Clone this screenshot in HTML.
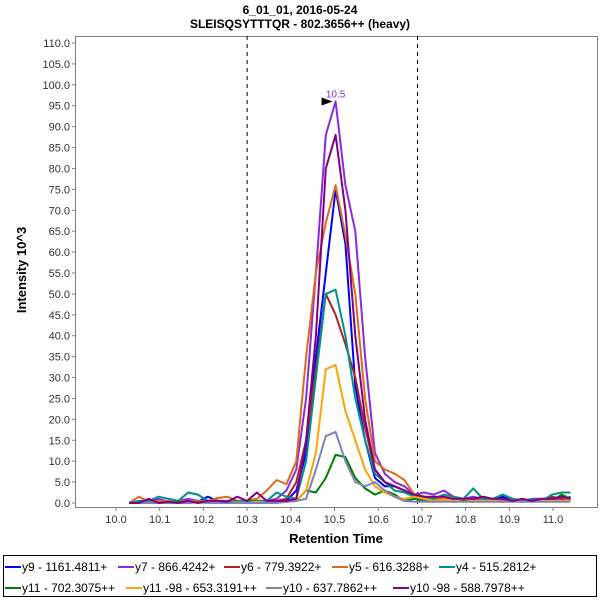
<!DOCTYPE html>
<html><head><meta charset="utf-8"><style>
body{margin:0;background:#fff;font-family:"Liberation Sans",sans-serif}
#wrap{position:relative;width:600px;height:600px}
</style></head><body>
<div id="wrap">
<svg id="svg" width="600" height="600" xmlns="http://www.w3.org/2000/svg" font-family="Liberation Sans, sans-serif">
<text x="300" y="14" text-anchor="middle" font-size="12" font-weight="bold">6_01_01, 2016-05-24</text>
<text x="300" y="28" text-anchor="middle" font-size="12" font-weight="bold">SLEISQSYTTTQR - 802.3656++ (heavy)</text>
<text x="26" y="270" text-anchor="middle" font-size="13" font-weight="bold" transform="rotate(-90 26 270)">Intensity 10^3</text>
<text x="336" y="543" text-anchor="middle" font-size="13" font-weight="bold">Retention Time</text>
<g id="plot"></g>
<rect x="3.5" y="555.5" width="593" height="41" fill="none" stroke="#000"/>
<g id="legend" font-size="12"></g>
</svg>
</div>
<script>
const times=[10.03,10.0525,10.075,10.0975,10.12,10.1425,10.165,10.1875,10.21,10.2325,10.255,10.2775,10.30,10.3225,10.345,10.3675,10.39,10.4125,10.435,10.4575,10.48,10.5025,10.525,10.5475,10.57,10.5925,10.615,10.6375,10.66,10.6825,10.705,10.7275,10.75,10.7725,10.795,10.8175,10.84,10.8625,10.885,10.9075,10.93,10.9525,10.975,10.9975,11.02,11.04];
const seriesNames=["y9 - 1161.4811+","y7 - 866.4242+","y6 - 779.3922+","y5 - 616.3288+","y4 - 515.2812+","y11 - 702.3075++","y11 -98 - 653.3191++","y10 - 637.7862++","y10 -98 - 588.7978++"];
const seriesColors=["#0000ff","#8a2be2","#b22222","#e06a1b","#009090","#008000","#ffa500","#8080c0","#800080"];
const y9=[0,0,0.5,0,0.3,0.5,0.2,0.3,1.5,0.5,0.5,0.3,0,0.2,0,0.3,0.5,3,12,35,55,75,62,28,15,6,4,4,3,1.5,1,0.5,0.5,1,1,0.8,1,0.5,1.5,0.5,1,0.3,1,0.5,0.5,1.5];
const y7=[0,0,0.5,1,0.3,0.5,1,0.5,0.3,0.5,0.3,0.5,0,0.5,0.5,1,3,8,25,55,88,96,76,65,35,12,7,5,4,2,2.5,2,3,1.5,1,1.5,1,1,0.5,1,0.5,1,1,0.5,1,1];
const y6=[0,0,0.3,0.5,0.2,0.5,0.3,0.5,0.2,0.5,0.3,0.5,0.3,0.5,0.5,0.5,1,5,15,32,50,45,38,30,18,8,5,4,3,2,1.5,1,1,0.8,1,1,0.5,1,0.5,1,0.5,0.5,0.8,1.5,1,1];
const y5=[0,1.5,0.3,0.5,0.5,0.3,0.5,0.5,0.5,1.2,1.5,0.5,0.5,1,3,5.5,4.5,10,35,55,67,76,64,50,25,10,8,7,5.5,2,1.5,1,1,0.5,1,0.5,0.8,1,0.5,0.8,0.5,0.5,0.8,1,1.5,0.5];
const y4=[0,0.5,0.5,1.5,1,0.5,2.5,2,0.5,0.5,0.5,0.5,0.5,0.5,0.5,2.5,1.5,1,10,30,50,51,40,25,15,7,5,3,2.5,1.5,1.5,1,2,1.5,1,3.5,1,1,2,1,0.5,1,0.5,2,2.5,2.5];
const y11=[0,0,0,0,0,0.3,0,0.3,0.2,0,0,0.3,0,0.3,0,0.3,0.3,0.5,3,2.5,6,11.5,11,6,3.5,2,3,2,0.5,1,0.5,0.3,0.5,0.3,0.5,0.3,0.5,0.5,0.3,0.5,0.3,0.5,0.5,0.5,2,1];
const y1198=[0,0,0,0,0.3,0,0.3,0,0.2,0.3,0,0.2,0,0.3,0,0.2,0.3,0.5,3,12,32,33,22,15,8,4,2.5,1.5,1,1.5,1,0.5,0.8,0.5,1,0.5,0.5,0.5,0.3,0.5,0.3,0.5,0.5,0.5,0.5,0.5];
const y10=[0,0,0,0,0,0,0,0.2,0,0,0,0,0,0,0,0,0.3,0.5,1,8,16,17,10,5,4,5,3,1.5,0.5,0.3,0.3,0.3,0.3,0.3,0.3,0.3,0.3,0.3,0.3,0.3,0.3,0.3,0.3,0.3,0.3,0.3];
const y1098=[0,0,1,0,0.3,0,0.5,0,0.5,0.5,0.3,1.5,0.5,2.5,0.5,0.5,0.5,1,15,40,80,88,70,40,20,8,5,4,3,2,1.5,1.5,1.5,1,1,1,1.5,1,1,0.5,1,0.5,1,1,1.5,1];
const seriesData=[y9,y7,y6,y5,y4,y11,y1198,y10,y1098];
const xTicks=[10.0,10.1,10.2,10.3,10.4,10.5,10.6,10.7,10.8,10.9,11.0];
const yTicks=[0,5,10,15,20,25,30,35,40,45,50,55,60,65,70,75,80,85,90,95,100,105,110];
const markers=[10.30,10.69];
const peakTime=10.5025, peakValue=96, peakLabel="10.5";

const NS="http://www.w3.org/2000/svg";
const L=75,R=597,T=36,B=507;
function xs(t){return 116+(t-10.0)*437;}
function ys(v){return 503-v*(460/110);}
function mk(tag,attrs,parent){const e=document.createElementNS(NS,tag);for(const k in attrs)e.setAttribute(k,attrs[k]);parent.appendChild(e);return e;}
const g=document.getElementById('plot');
const frame=mk('rect',{x:L+0.5,y:T+0.5,width:R-L,height:B-T,fill:'none',stroke:'#808080'},g);


yTicks.forEach(v=>{
  const y=ys(v);
  const tl=mk('line',{x1:L-3,x2:L,y1:y,y2:y,stroke:'#808080'},g);
  
  
  const tx=mk('text',{x:L-5,y:y+4,'text-anchor':'end','font-size':11,fill:'#333'},g);
  tx.textContent=v.toFixed(1);
  
  
});
mk('line',{x1:L,x2:R,y1:B+0.5,y2:B+0.5,stroke:'#808080'},g);
xTicks.forEach(t=>{
  const x=xs(t);
  const tl=mk('line',{x1:x,x2:x,y1:B,y2:B+4,stroke:'#808080'},g);
  
  
  const tx=mk('text',{x:x,y:B+16,'text-anchor':'middle','font-size':11,fill:'#333'},g);
  tx.textContent=t.toFixed(1);
  
  
});
markers.forEach(t=>{
  const ln=mk('line',{x1:xs(t),x2:xs(t),y1:T,y2:B,stroke:'#000','stroke-dasharray':'4,4'},g);
  
  
});
seriesData.forEach((d,i)=>{
  const pts=d.map((v,j)=>xs(times[j]).toFixed(1)+','+ys(v).toFixed(1)).join(' ');
  const pl=mk('polyline',{points:pts,fill:'none',stroke:seriesColors[i],'stroke-width':2,'stroke-linejoin':'round'},g);
  
  
});
const px=xs(peakTime),py=ys(peakValue);
const arr=mk('polygon',{points:`${px-3},${py} ${px-14},${py-4} ${px-14},${py+4}`,fill:'#000'},g);


const pt=mk('text',{x:px,y:py-4,'text-anchor':'middle','font-size':10,fill:'#8a2be2'},g);
pt.textContent=peakLabel;


const lg=document.getElementById('legend');
const lx=[5,118,224,332,439,5,126,266,393];
seriesNames.forEach((n,i)=>{
  const y=i<5?567:588;
  const ln=mk('line',{x1:lx[i],x2:lx[i]+16,y1:y,y2:y,stroke:seriesColors[i],'stroke-width':2},lg);
  
  
  const tx=mk('text',{x:lx[i]+17,y:y+4,'font-size':12},lg);
  tx.textContent=n;
  
  
});
</script>
</body></html>
